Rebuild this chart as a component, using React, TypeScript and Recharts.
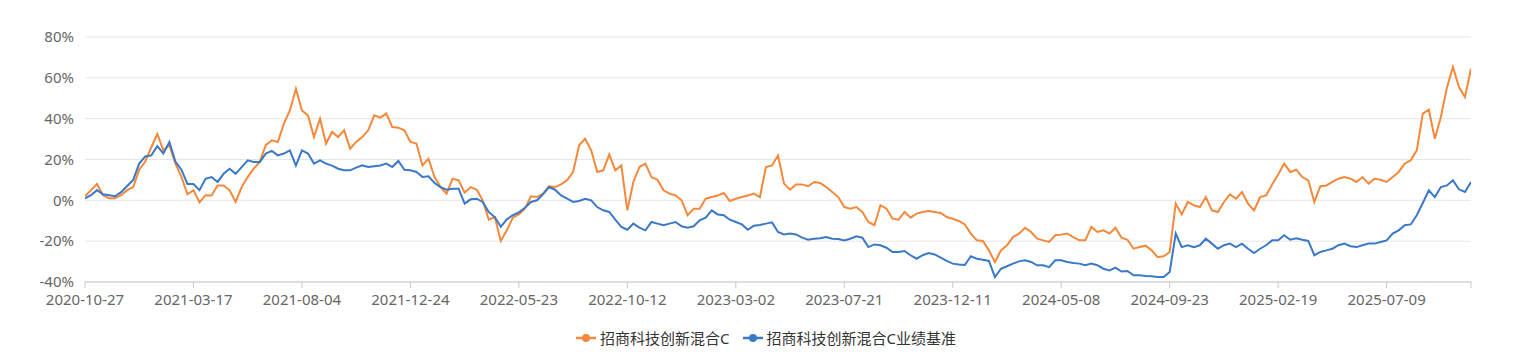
import React from 'react';
import { LineChart, Line, XAxis, YAxis, CartesianGrid, Legend } from 'recharts';

const fundName = '招商科技创新混合C';
const benchName = '招商科技创新混合C业绩基准';

const tickLabels = [
  '2020-10-27', '2021-03-17', '2021-08-04', '2021-12-24', '2022-05-23', '2022-10-12',
  '2023-03-02', '2023-07-21', '2023-12-11', '2024-05-08', '2024-09-23', '2025-02-19', '2025-07-09',
];

const yTicks = [-40, -20, 0, 20, 40, 60, 80];

const fundValues = [
  2, 5, 8, 2.5, 1, 1, 2.5, 5, 6.5, 15, 19, 26, 32.5, 24.5, 27, 18, 11.5, 3, 5, -1,
  2.5, 2.4, 7.3, 7.3, 4.9, -0.8, 6.5, 11.4, 15.5, 18.8, 27, 29.4, 28.6, 37.6, 44, 54.7, 44, 41.6, 31, 40,
  27.8, 33.5, 31, 34.3, 25.3, 28.6, 31, 34.3, 41.6, 40.5, 42.5, 35.9, 35.6, 34.3, 28.6, 27.8, 17.1, 20.4, 11.4, 6.5,
  3.3, 10.6, 9.8, 3.8, 6.5, 5.2, 0, -9.5, -8.2, -19.9, -14.7, -8.5, -6.9, -4.1, 2, 1.6, 3.3, 6.9, 6.5, 7.8,
  9.8, 13.9, 27, 30.2, 24.5, 13.9, 14.7, 22.5, 14.7, 17.1, -4.9, 9, 16.3, 18, 11.4, 10.1, 4.9, 3.3, 2.4, 0,
  -7.3, -4.1, -4.1, 0.8, 1.6, 2.4, 3.6, -0.3, 0.8, 1.6, 2.4, 3.3, 1.6, 16.3, 17.1, 22, 8.2, 5.2, 7.8, 7.8,
  6.9, 9, 8.5, 6.5, 4.1, 1.6, -3.3, -4.1, -3.3, -5.7, -10.6, -12.2, -2.4, -4.1, -9, -9.5, -5.7, -8.5, -6.5, -5.7,
  -5.2, -5.7, -6.2, -8.2, -9, -10.1, -11.8, -16.3, -19.6, -19.9, -24.5, -30.2, -24.5, -22, -18, -16.3, -13.4, -15.5, -18.8, -19.6,
  -20.4, -17.1, -16.8, -16.3, -18, -19.6, -19.6, -13, -15.5, -14.7, -16.3, -13.4, -18.3, -19.3, -23.7, -22.9, -22.2, -24.5, -27.8, -27.4,
  -25.3, -1.6, -6.9, -0.8, -2.4, -3.3, 1.6, -4.9, -5.7, -0.8, 2.9, 0.8, 4.1, -1.6, -4.9, 1.6, 2.4, 7.8, 12.7, 18,
  13.9, 15, 11.4, 9.8, -0.8, 6.9, 7.3, 9, 10.6, 11.4, 10.6, 9, 11.4, 8.2, 10.6, 10.1, 9, 11.4, 13.9, 18,
  19.6, 24.5, 42.5, 44.4, 30.2, 40.8, 55.2, 65.3, 55.5, 50.6, 64.5,
];

const benchValues = [
  1, 2.5, 5, 3, 2.5, 2, 4, 7, 10, 18, 21.5, 22, 26.5, 23, 28.5, 19, 15, 8, 8, 5,
  10.5, 11.4, 9, 13, 15.5, 13, 16.3, 19.6, 18.8, 18.8, 22.9, 24.2, 22, 22.9, 24.5, 17, 24.5, 22.9, 18, 19.6,
  18, 17, 15.5, 14.7, 14.7, 16, 17.1, 16.3, 16.7, 17.1, 18, 16.3, 19.3, 15, 14.7, 13.9, 11.4, 11.8, 8.5, 6.5,
  5.2, 5.7, 5.7, -1.6, 0.5, 0.8, -0.8, -5.7, -8.2, -13, -9.3, -7.3, -5.9, -3.6, -0.8, 0, 2.9, 6.5, 5.2, 2.4,
  0.8, -0.8, -0.3, 0.8, 0, -3.3, -4.9, -5.7, -9.5, -13, -14.4, -11.4, -13.4, -14.7, -10.6, -11.4, -12.2, -11.4, -10.6, -12.7,
  -13.4, -12.7, -9.8, -8.5, -4.9, -6.9, -7.3, -9.5, -10.6, -11.8, -14.4, -12.4, -12.1, -11.4, -10.8, -15.5, -16.7, -16.3, -16.7, -18.3,
  -19.3, -18.8, -18.6, -18, -18.8, -18.9, -19.6, -18.8, -17.6, -18.3, -22.9, -21.6, -22, -23.2, -25.3, -25.3, -24.8, -26.9, -28.6, -26.9,
  -25.8, -26.5, -28.1, -29.7, -31, -31.4, -31.7, -27.4, -28.6, -29.1, -29.7, -37.6, -33.5, -32.3, -31, -29.9, -29.4, -30.2, -31.8, -31.8,
  -32.7, -29.4, -29.4, -30.2, -30.7, -31, -31.8, -31, -31.8, -33.5, -34.3, -33, -34.9, -34.6, -36.7, -36.7, -37.1, -37.2, -37.6, -37.6,
  -35.1, -16.3, -22.9, -22, -22.9, -22, -18.8, -21.2, -23.7, -22, -21.2, -22.9, -21.2, -23.7, -25.8, -23.7, -22, -19.6, -19.6, -17.1,
  -19.3, -18.6, -19.3, -19.9, -26.9, -25.3, -24.5, -23.7, -22, -21.2, -22.5, -22.9, -22, -21.2, -21.2, -20.4, -19.6, -16.3, -14.7, -12.2,
  -11.8, -7.3, -1.3, 4.9, 1.6, 6.5, 7.3, 9.8, 5.4, 4.1, 9,
];

const TICK_STEP = 18;
const FONT = '"Noto Sans", "Noto Sans CJK SC", sans-serif';
const ORANGE = '#f5883a';
const BLUE = '#3a78c8';

const data = fundValues.map((v, i) => ({ i, fund: v, bench: benchValues[i] }));
const lastIndex = fundValues.length - 1;
const xTicks = [...tickLabels.map((_, k) => k * TICK_STEP), lastIndex];

const legendItems = [
  { name: fundName, color: ORANGE },
  { name: benchName, color: BLUE },
];

const LegendContent = () => (
  <div
    style={{
      display: 'flex',
      justifyContent: 'center',
      alignItems: 'center',
      height: 20,
      fontFamily: FONT,
      fontSize: 15,
      color: '#333',
      gap: 13,
    }}
  >
    {legendItems.map((it) => (
      <div key={it.name} style={{ display: 'flex', alignItems: 'center' }}>
        <svg width={20} height={12} style={{ marginRight: 4 }}>
          <line x1={0} y1={6} x2={20} y2={6} stroke={it.color} strokeWidth={2.5} />
          <circle cx={10} cy={6} r={4} fill={it.color} />
        </svg>
        <span style={{ lineHeight: '20px' }}>{it.name}</span>
      </div>
    ))}
  </div>
);

export default function App() {
  return (
    <div style={{ position: 'absolute', left: 0, top: 0, background: '#fff' }}>
      <LineChart
        width={1532}
        height={352}
        data={data}
        margin={{ top: 37, right: 61, left: 25, bottom: 4 }}
      >
        <CartesianGrid vertical={false} stroke="#e6e6e6" strokeWidth={1} />
        <XAxis
          dataKey="i"
          type="number"
          domain={[0, lastIndex]}
          ticks={xTicks}
          interval={0}
          tickFormatter={(v: number) => (v % TICK_STEP === 0 && v / TICK_STEP < tickLabels.length ? tickLabels[v / TICK_STEP] : '')}
          height={46}
          axisLine={{ stroke: '#c8c8c8' }}
          tickLine={{ stroke: '#c8c8c8' }}
          tickSize={6}
          tickMargin={6}
          tick={{ fill: '#666', fontSize: 15, fontFamily: FONT }}
          allowDataOverflow
        />
        <YAxis
          type="number"
          domain={[-40, 80]}
          ticks={yTicks}
          interval={0}
          width={60}
          axisLine={false}
          tickLine={false}
          tickSize={0}
          tickMargin={11}
          tickFormatter={(v: number) => `${v}%`}
          tick={{ fill: '#666', fontSize: 15, fontFamily: FONT }}
        />
        <Legend
          verticalAlign="bottom"
          content={<LegendContent />}
          wrapperStyle={{ left: 0, width: 1532, bottom: 4 }}
        />
        <Line
          type="linear"
          dataKey="fund"
          name={fundName}
          stroke={ORANGE}
          strokeWidth={2}
          dot={false}
          activeDot={false}
          isAnimationActive={false}
        />
        <Line
          type="linear"
          dataKey="bench"
          name={benchName}
          stroke={BLUE}
          strokeWidth={2}
          dot={false}
          activeDot={false}
          isAnimationActive={false}
        />
      </LineChart>
    </div>
  );
}
